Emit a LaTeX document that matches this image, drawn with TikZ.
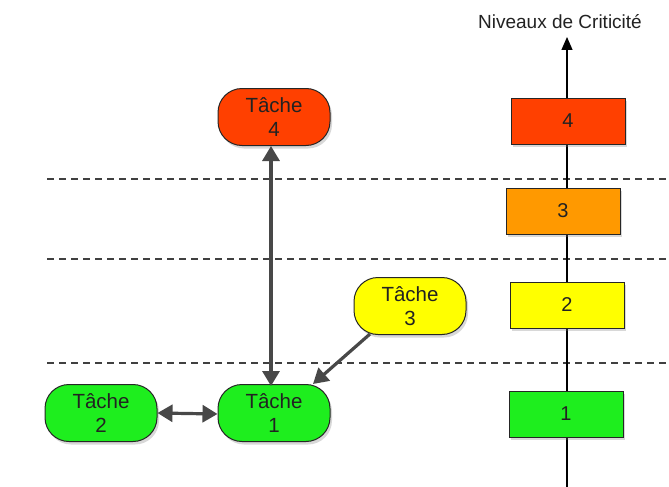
\documentclass[tikz,border=0pt]{standalone}
\usepackage{fontspec}
\setmainfont{Liberation Sans}
\usetikzlibrary{arrows.meta,shadows}
\definecolor{cred}{RGB}{255,64,0}
\definecolor{corange}{RGB}{255,153,0}
\definecolor{cyellow}{RGB}{255,255,0}
\definecolor{cgreen}{RGB}{30,238,30}
\definecolor{txt}{RGB}{34,34,34}
\definecolor{arr}{RGB}{72,72,72}
\begin{document}
\begin{tikzpicture}[x=1pt,y=-1pt,
  tache/.style={draw=black!85, line width=1pt, rounded corners=24pt, minimum width=112pt, minimum height=57pt, inner sep=0pt, align=center, text=txt, font=\fontsize{20.5}{24}\selectfont, drop shadow={shadow xshift=2pt, shadow yshift=-3pt, opacity=0.3}},
  niveau/.style={draw=black!85, line width=1pt, minimum width=114pt, minimum height=46pt, inner sep=0pt, text=txt, font=\fontsize{20}{24}\selectfont, drop shadow={shadow xshift=2pt, shadow yshift=-3pt, opacity=0.3}},
  sep/.style={draw=black!75, line width=1.2pt, dash pattern=on 7pt off 5pt},
  lien/.style={draw=arr, line width=3.2pt, {Triangle[width=17pt,length=15pt]}-{Triangle[width=17pt,length=15pt]}},
  lienun/.style={draw=arr, line width=3.2pt, -{Triangle[width=17pt,length=15pt]}},
  axe/.style={draw=black, line width=1.3pt, -{Triangle[width=11pt,length=13pt]}}]
\useasboundingbox[fill=white] (0,0) rectangle (669,487);
% dashed separators
\coordinate (s1a) at (47,179); \coordinate (s1b) at (669,179);
\coordinate (s2a) at (47,259); \coordinate (s2b) at (669,259);
\coordinate (s3a) at (47,363); \coordinate (s3b) at (669,363);
\draw[sep] (s1a) -- (s1b);
\draw[sep] (s2a) -- (s2b);
\draw[sep] (s3a) -- (s3b);
% axis
\coordinate (axb) at (567,487);
\coordinate (axt) at (567,37);
\draw[axe] (axb) -- (axt);
\node[font=\fontsize{19}{22}\selectfont, text=txt] (lbl) at (560,22) {Niveaux de Criticité};
% level boxes
\node[niveau, fill=cred] (n4) at (568,121) {4};
\node[niveau, fill=corange] (n3) at (563,211) {3};
\node[niveau, fill=cyellow] (n2) at (567,305) {2};
\node[niveau, fill=cgreen] (n1) at (566,414) {1};
% tasks
\node[tache, fill=cred] (t4) at (274,117) {Tâche\\4};
\node[tache, fill=cyellow] (t3) at (410,306) {Tâche\\3};
\node[tache, fill=cgreen] (t2) at (101,413) {Tâche\\2};
\node[tache, fill=cgreen] (t1) at (274,413) {Tâche\\1};
% connectors
\coordinate (a4) at (271,146);
\coordinate (a1) at (271,386);
\draw[lien] (a4) -- (a1);
\draw[lien] (t2.east) -- ([yshift=-1pt]t1.west);
\coordinate (t3s) at (370,334);
\coordinate (t1n) at (313,384);
\draw[lienun] (t3s) -- (t1n);
\end{tikzpicture}
\end{document}
